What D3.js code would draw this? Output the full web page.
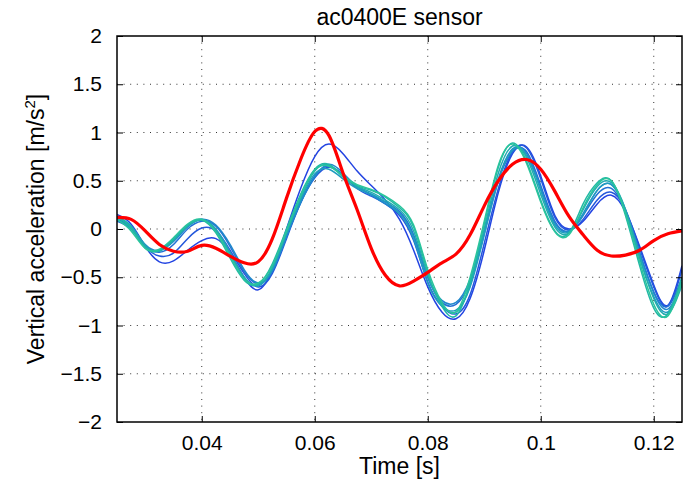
<!DOCTYPE html>
<html>
<head>
<meta charset="utf-8">
<script src="https://cdn.jsdelivr.net/npm/d3@7"></script>
<style>
  body { margin: 0; background: #fff; }
  text { font-family: "Liberation Sans", Arial, Helvetica, sans-serif; fill: #000; }
</style>
</head>
<body>
<div id="chart"></div>
<script>
/**
 * CONSTANTS AND GLOBALS
 * */
const width = 684,
  height = 482,
  margin = { top: 36, right: 2, bottom: 60, left: 117 };

const fontSize = 21,
  labelSize = 23; // labels and title are a bit bigger than the ticks

/**
 * DATA
 * */
const time = [
  0.025, 0.0275, 0.03, 0.0325, 0.035, 0.0375, 0.04, 0.0425, 0.045, 0.0475,
  0.05, 0.0525, 0.055, 0.0575, 0.06, 0.0625, 0.065, 0.0675, 0.07, 0.0725,
  0.075, 0.0775, 0.08, 0.0825, 0.085, 0.0875, 0.09, 0.0925, 0.095, 0.0975,
  0.1, 0.1025, 0.105, 0.1075, 0.11, 0.1125, 0.115, 0.1175, 0.12, 0.1225, 0.125
];

// measured runs, blue -> teal
const run1 = [0.15, 0.05, -0.18, -0.34, -0.33, -0.22, -0.12, -0.1, -0.25, -0.5, -0.63, -0.42, 0.0, 0.42, 0.75, 0.88, 0.78, 0.6, 0.45, 0.3, 0.1, -0.22, -0.6, -0.86, -0.93, -0.72, -0.22, 0.38, 0.78, 0.85, 0.55, 0.14, 0.0, 0.08, 0.26, 0.35, 0.18, -0.18, -0.58, -0.79, -0.38];
const run2 = [0.1, 0.02, -0.18, -0.28, -0.25, -0.1, 0.01, -0.02, -0.22, -0.46, -0.6, -0.46, -0.1, 0.27, 0.53, 0.64, 0.56, 0.42, 0.34, 0.26, 0.14, -0.12, -0.55, -0.8, -0.88, -0.68, -0.15, 0.42, 0.8, 0.84, 0.52, 0.12, -0.01, 0.1, 0.3, 0.38, 0.2, -0.2, -0.6, -0.8, -0.42];
const run3 = [0.08, 0.0, -0.17, -0.24, -0.16, 0.0, 0.08, 0.03, -0.18, -0.44, -0.57, -0.44, -0.08, 0.28, 0.55, 0.65, 0.56, 0.44, 0.36, 0.28, 0.18, -0.06, -0.5, -0.76, -0.78, -0.55, -0.05, 0.5, 0.8, 0.8, 0.45, 0.08, -0.02, 0.14, 0.36, 0.42, 0.18, -0.24, -0.65, -0.8, -0.5];
const run4 = [0.12, 0.02, -0.16, -0.22, -0.13, 0.02, 0.1, 0.04, -0.16, -0.42, -0.56, -0.43, -0.08, 0.27, 0.54, 0.67, 0.58, 0.44, 0.35, 0.26, 0.16, -0.08, -0.5, -0.74, -0.76, -0.52, -0.02, 0.52, 0.83, 0.78, 0.42, 0.06, -0.02, 0.16, 0.4, 0.46, 0.2, -0.25, -0.66, -0.83, -0.55];
const run5 = [0.1, 0.0, -0.18, -0.22, -0.11, 0.04, 0.1, 0.0, -0.24, -0.5, -0.59, -0.42, -0.05, 0.3, 0.57, 0.62, 0.52, 0.42, 0.36, 0.28, 0.16, -0.1, -0.56, -0.8, -0.84, -0.6, -0.06, 0.5, 0.82, 0.76, 0.4, 0.04, -0.03, 0.15, 0.4, 0.46, 0.18, -0.3, -0.7, -0.86, -0.55];
const run6 = [0.13, 0.03, -0.17, -0.23, -0.12, 0.03, 0.09, -0.01, -0.26, -0.5, -0.58, -0.4, -0.04, 0.32, 0.6, 0.66, 0.54, 0.44, 0.38, 0.3, 0.2, -0.02, -0.48, -0.78, -0.86, -0.58, 0.0, 0.58, 0.86, 0.74, 0.36, 0.02, -0.04, 0.2, 0.44, 0.48, 0.2, -0.28, -0.72, -0.88, -0.58];
const run7 = [0.12, 0.01, -0.2, -0.22, -0.1, 0.04, 0.09, -0.04, -0.3, -0.53, -0.57, -0.36, 0.0, 0.36, 0.62, 0.67, 0.55, 0.45, 0.4, 0.33, 0.22, 0.02, -0.45, -0.8, -0.9, -0.55, 0.05, 0.64, 0.89, 0.7, 0.3, -0.02, -0.04, 0.26, 0.48, 0.5, 0.14, -0.38, -0.82, -0.88, -0.5];
const run8 = [0.1, -0.02, -0.2, -0.21, -0.09, 0.05, 0.1, -0.03, -0.28, -0.52, -0.56, -0.38, -0.02, 0.34, 0.61, 0.65, 0.55, 0.46, 0.41, 0.34, 0.24, 0.04, -0.42, -0.76, -0.86, -0.5, 0.08, 0.66, 0.88, 0.68, 0.28, -0.03, -0.06, 0.22, 0.46, 0.5, 0.16, -0.34, -0.78, -0.9, -0.55];

// the thick red trace
const redTrace = [0.12, 0.1, -0.02, -0.16, -0.23, -0.23, -0.17, -0.2, -0.28, -0.35, -0.34, -0.1, 0.32, 0.72, 1.01, 0.97, 0.58, 0.2, -0.2, -0.48, -0.59, -0.54, -0.45, -0.35, -0.26, -0.06, 0.24, 0.5, 0.67, 0.72, 0.62, 0.39, 0.13, -0.06, -0.22, -0.28, -0.27, -0.22, -0.12, -0.05, -0.02];

const runColors = ["#2344e2", "#2458dc", "#2270d4", "#2088cc", "#1f9cc0", "#20acb0", "#22b8a6", "#2ac49c"];

const xTicks = [0.04, 0.06, 0.08, 0.1, 0.12];
const yTicks = [-2, -1.5, -1, -0.5, 0, 0.5, 1, 1.5, 2];

const titleText = "ac0400E sensor";
const xLabel = "Time [s]";

/**
 * INIT
 * */
init();

function init() {
  const svg = d3.select("#chart")
    .append("svg")
    .attr("width", width)
    .attr("height", height)
    .style("background", "#fff");

  const x = d3.scaleLinear()
    .domain([0.025, 0.125])
    .range([margin.left, width - margin.right]);

  const y = d3.scaleLinear()
    .domain([-2, 2])
    .range([height - margin.bottom, margin.top]);

  const fmt = d => String(d).replace("-", "\u2212");
  const innerW = width - margin.left - margin.right;
  const innerH = height - margin.top - margin.bottom;

  // dotted grid
  const grid = svg.append("g").attr("class", "grid");

  grid.selectAll("line.gx")
    .data(xTicks)
    .join("line")
    .attr("class", "gx")
    .attr("x1", d => x(d)).attr("x2", d => x(d))
    .attr("y1", margin.top).attr("y2", height - margin.bottom);

  grid.selectAll("line.gy")
    .data(yTicks.slice(1, -1))
    .join("line")
    .attr("class", "gy")
    .attr("x1", margin.left).attr("x2", width - margin.right)
    .attr("y1", d => y(d)).attr("y2", d => y(d));

  grid.selectAll("line")
    .attr("stroke", "#333")
    .attr("stroke-width", 1)
    .attr("stroke-dasharray", "1,5.6");

  // clip for the traces
  svg.append("clipPath")
    .attr("id", "clip")
    .append("rect")
    .attr("x", margin.left)
    .attr("y", margin.top)
    .attr("width", innerW)
    .attr("height", innerH);

  const line = d3.line()
    .x((d, i) => x(time[i]))
    .y(d => y(d))
    .curve(d3.curveNatural);

  const runs = [run1, run2, run3, run4, run5, run6, run7, run8];

  const plot = svg.append("g").attr("clip-path", "url(#clip)");

  plot.selectAll("path.run")
    .data(runs)
    .join("path")
    .attr("class", "run")
    .attr("fill", "none")
    .attr("stroke", (d, i) => runColors[i])
    .attr("stroke-width", 1.5)
    .attr("d", line);

  plot.append("path")
    .datum(redTrace)
    .attr("fill", "none")
    .attr("stroke", "#ff0000")
    .attr("stroke-width", 3.2)
    .attr("d", line);

  // axes: ticks pointing inward on all four sides
  const axisStyle = g => {
    g.select(".domain").remove();
    g.selectAll(".tick line").attr("stroke", "#000").attr("stroke-width", 1);
    g.selectAll(".tick text")
      .style("font-size", fontSize + "px")
      .style("font-family", "'Liberation Sans', Arial, sans-serif");
  };

  svg.append("g")
    .attr("transform", `translate(0,${height - margin.bottom})`)
    .call(d3.axisBottom(x).tickValues(xTicks).tickFormat(fmt).tickSizeInner(-6).tickPadding(13))
    .call(axisStyle);

  svg.append("g")
    .attr("transform", `translate(0,${margin.top})`)
    .call(d3.axisTop(x).tickValues(xTicks).tickFormat("").tickSizeInner(-6))
    .call(axisStyle);

  svg.append("g")
    .attr("transform", `translate(${margin.left},0)`)
    .call(d3.axisLeft(y).tickValues(yTicks).tickFormat(fmt).tickSizeInner(-6).tickPadding(15))
    .call(axisStyle);

  svg.append("g")
    .attr("transform", `translate(${width - margin.right},0)`)
    .call(d3.axisRight(y).tickValues(yTicks).tickFormat("").tickSizeInner(-6))
    .call(axisStyle);

  // box
  svg.append("rect")
    .attr("x", margin.left)
    .attr("y", margin.top)
    .attr("width", innerW)
    .attr("height", innerH)
    .attr("fill", "none")
    .attr("stroke", "#000")
    .attr("stroke-width", 1.5);

  // title and labels
  svg.append("text")
    .attr("x", margin.left + innerW / 2)
    .attr("y", 25)
    .attr("text-anchor", "middle")
    .style("font-size", labelSize + "px")
    .text(titleText);

  svg.append("text")
    .attr("x", margin.left + innerW / 2)
    .attr("y", 474)
    .attr("text-anchor", "middle")
    .style("font-size", labelSize + "px")
    .text(xLabel);

  const yl = svg.append("text")
    .attr("transform", `translate(44,${margin.top + innerH / 2}) rotate(-90)`)
    .attr("text-anchor", "middle")
    .style("font-size", labelSize + "px");
  yl.append("tspan").text("Vertical acceleration [m/s");
  yl.append("tspan").attr("dy", -9).style("font-size", "15px").text("2");
  yl.append("tspan").attr("dy", 9).text("]");
}
</script>
</body>
</html>
